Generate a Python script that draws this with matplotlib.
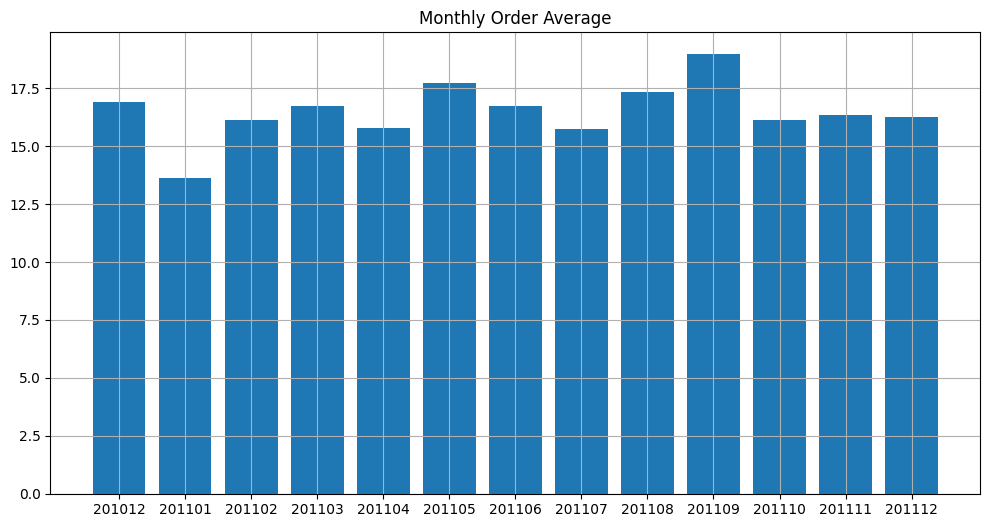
import matplotlib
matplotlib.use("Agg")
import matplotlib.pyplot as plt

months = ['201012', '201101', '201102', '201103', '201104', '201105', '201106',
          '201107', '201108', '201109', '201110', '201111', '201112']
order_avg = [16.9, 13.62, 16.12, 16.72, 15.78, 17.72, 16.72,
             15.73, 17.33, 18.97, 16.12, 16.34, 16.25]

def main():
	fig = plt.figure(figsize=(9.9, 5.28), dpi=100)
	ax = fig.add_axes([0.0508, 0.0650, 0.9394, 0.8738])
	ax.bar(months, order_avg)
	ax.set_title('Monthly Order Average')
	ax.grid()
	fig.savefig('out.png')

if __name__ == "__main__":
	main()
